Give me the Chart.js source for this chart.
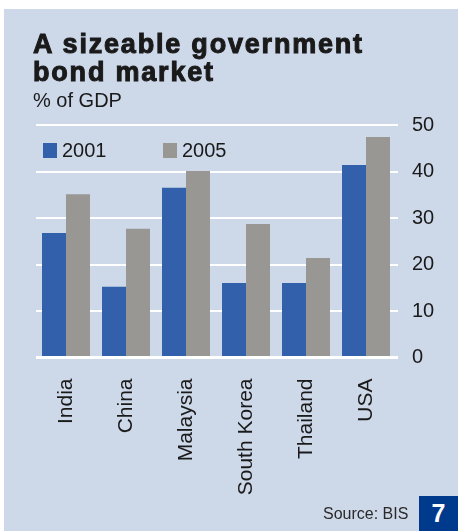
<!DOCTYPE html>
<html>
<head>
<meta charset="utf-8">
<script src="https://cdn.jsdelivr.net/npm/chart.js@4/dist/chart.umd.min.js"></script>
<style>
  html, body { margin: 0; padding: 0; background: #ffffff; }
  #panel {
    position: absolute; left: 4px; top: 9px; width: 454px; height: 522px;
    background: #cdd8e9; overflow: hidden;
  }
  #wrap { position: absolute; left: 0; top: 0; width: 458px; height: 531px; }
  .txt { position: absolute; font-family: "Liberation Sans", Arial, sans-serif; color: #1a1a1a; white-space: nowrap; }
  #title { left: 33px; top: 30px; font-size: 27px; font-weight: bold; line-height: 28px; letter-spacing: 1.8px; -webkit-text-stroke: 1px #1a1a1a; }
  #sub { left: 33px; top: 89px; font-size: 20px; }
  #source { left: 323px; top: 505px; font-size: 16px; color: #2a2a2a; }
  #num { left: 419px; top: 496px; width: 39px; height: 35px; background: #003a8c; color: #fff; font-size: 25px; font-weight: bold; text-align: center; line-height: 35px; }
</style>
</head>
<body>
<div id="panel"></div>
<div id="wrap"><canvas id="bondChart" width="458" height="531"></canvas></div>
<div class="txt" id="title">A sizeable government<br>bond market</div>
<div class="txt" id="sub">% of GDP</div>
<div class="txt" id="source">Source: BIS</div>
<div class="txt" id="num">7</div>
<script>
const countries = ['India', 'China', 'Malaysia', 'South Korea', 'Thailand', 'USA'];
const values2001 = [26.8, 15.2, 36.5, 16.0, 16.0, 41.4];
const values2005 = [35.1, 27.7, 40.1, 28.7, 21.4, 47.4];
const yTicks = [0, 10, 20, 30, 40, 50];

const blue = '#3360ab';
const grey = '#999794';
const fontFamily = '"Liberation Sans", Arial, sans-serif';

// legend sits inside the plot, top left
const insideLegend = {
    id: 'insideLegend',
    afterDraw(chart) {
        const ctx = chart.ctx;
        const spots = [43, 163];
        ctx.save();
        ctx.font = '20px ' + fontFamily;
        ctx.textBaseline = 'middle';
        chart.data.datasets.forEach(function(ds, i) {
            const x = spots[i];
            ctx.fillStyle = ds.backgroundColor;
            ctx.fillRect(x, 143, 14, 15);
            ctx.fillStyle = '#1a1a1a';
            ctx.fillText(ds.label, x + 19, 151);
        });
        ctx.restore();
    }
};

const chart = new Chart(document.getElementById('bondChart'), {
    type: 'bar',
    data: {
        labels: countries,
        datasets: [
            { label: '2001', data: values2001, backgroundColor: blue },
            { label: '2005', data: values2005, backgroundColor: grey }
        ]
    },
    options: {
        responsive: false,
        animation: false,
        datasets: { bar: { categoryPercentage: 0.8, barPercentage: 1.0 } },
        layout: { padding: { left: 36, top: 125, right: 0, bottom: 0 } },
        plugins: { legend: { display: false }, tooltip: { enabled: false } },
        scales: {
            x: {
                grid: { display: false },
                border: { display: false },
                afterFit: function(scale) { scale.height = 531 - 357.5; },
                ticks: {
                    color: '#1a1a1a',
                    font: { family: fontFamily, size: 21 },
                    minRotation: 90,
                    maxRotation: 90,
                    padding: 13
                }
            },
            y: {
                position: 'right',
                min: 0,
                max: 50,
                afterFit: function(scale) { scale.width = 458 - 396; },
                afterBuildTicks: function(scale) {
                    scale.ticks = yTicks.map(function(v) { return { value: v }; });
                },
                border: { display: false },
                grid: {
                    color: '#ffffff',
                    lineWidth: function(c) { return c.tick && c.tick.value === 0 ? 3 : 2; },
                    tickLength: 2
                },
                ticks: {
                    color: '#1a1a1a',
                    font: { family: fontFamily, size: 20 },
                    padding: 14
                }
            }
        }
    },
    plugins: [insideLegend]
});
</script>
</body>
</html>
